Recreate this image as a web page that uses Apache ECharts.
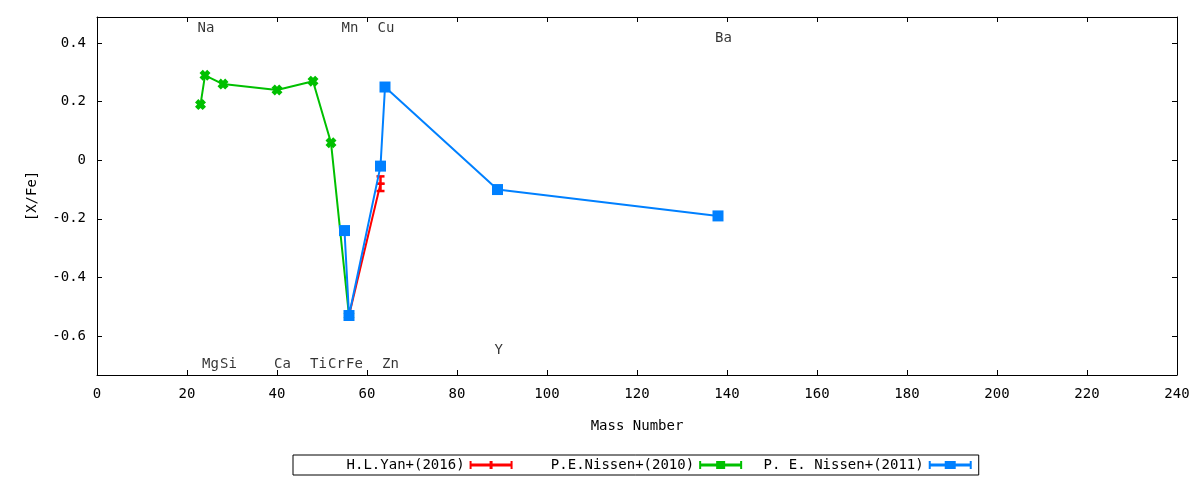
<!DOCTYPE html>
<html>
<head>
<meta charset="utf-8">
<script src="https://cdn.jsdelivr.net/npm/echarts@6/dist/echarts.min.js"></script>
<style>
  html, body { margin: 0; padding: 0; background: #fff; }
  #chart { width: 1200px; height: 480px; }
</style>
</head>
<body>
<div id="chart"></div>
<script>
// H.L.Yan+(2016)
const yanMass = [56, 63];
const yanVal = [-0.53, -0.08];
const yanErr = [0, 0.025];

// P.E.Nissen+(2010)
const nissen10Mass = [23, 24, 28, 40, 48, 52, 56];
const nissen10Val = [0.19, 0.29, 0.26, 0.24, 0.27, 0.06, -0.53];

// P. E. Nissen+(2011)
const nissen11Mass = [55, 56, 63, 64, 89, 138];
const nissen11Val = [-0.24, -0.53, -0.02, 0.25, -0.10, -0.19];

// element labels
const elemName = ['Na', 'Mg', 'Si', 'Ca', 'Ti', 'Cr', 'Mn', 'Fe', 'Cu', 'Zn', 'Y', 'Ba'];
const elemMass = [23, 24, 28, 40, 48, 52, 55, 56, 63, 64, 89, 138];
const elemLabelY = [0.45, -0.697, -0.697, -0.697, -0.697, -0.697, 0.45, -0.697, 0.45, -0.697, -0.65, 0.416];

const yTicks = [-0.6, -0.4, -0.2, 0, 0.2, 0.4];

const FONT = 'DejaVu Sans Mono';
const FS = 14;
const RED = '#ff0000', GREEN = '#00c000', BLUE = '#0080ff';

const zip = (xs, ys) => xs.map((x, i) => [x, ys[i]]);

const chart = echarts.init(document.getElementById('chart'));

const xBase = {
  type: 'value', min: 0, max: 240, interval: 20,
  axisLine: { show: true, onZero: false, lineStyle: { color: '#000', width: 1 } },
  axisTick: { show: true, inside: true, length: 5, lineStyle: { color: '#000' } },
  splitLine: { show: false }
};
const yBase = {
  type: 'value', min: -0.733, max: 0.489,
  axisLine: { show: true, onZero: false, lineStyle: { color: '#000', width: 1 } },
  axisTick: { show: true, inside: true, length: 5, customValues: yTicks, lineStyle: { color: '#000' } },
  splitLine: { show: false }
};

// bold "x" marker like gnuplot's
const xPath = 'path://M0,3L3,0L5,2L7,0L10,3L8,5L10,7L7,10L5,8L3,10L0,7L2,5Z';

chart.setOption({
  animation: false,
  textStyle: { fontFamily: FONT },
  grid: { left: 97, right: 23, top: 17, bottom: 105 },
  xAxis: [
    Object.assign({}, xBase, {
      position: 'bottom',
      name: 'Mass Number', nameLocation: 'middle', nameGap: 44,
      nameTextStyle: { fontFamily: FONT, fontSize: FS, color: '#000' },
      axisLabel: { color: '#000', fontFamily: FONT, fontSize: FS, margin: 12 }
    }),
    Object.assign({}, xBase, { position: 'top', axisLabel: { show: false } })
  ],
  yAxis: [
    Object.assign({}, yBase, {
      position: 'left',
      name: '[X/Fe]', nameLocation: 'middle', nameGap: 58, nameRotate: 90,
      nameTextStyle: { fontFamily: FONT, fontSize: FS, color: '#000' },
      axisLabel: {
        color: '#000', fontFamily: FONT, fontSize: FS, margin: 11,
        customValues: yTicks,
        formatter: v => (Math.abs(v) < 1e-9 ? '0' : String(+v.toFixed(1)))
      }
    }),
    Object.assign({}, yBase, { position: 'right', axisLabel: { show: false } })
  ],
  legend: {
    left: 293, top: 455,
    orient: 'horizontal',
    align: 'right',
    itemWidth: 43, itemHeight: 8, itemGap: 13,
    padding: [3, 7, 3, 3],
    borderColor: '#000', borderWidth: 1, borderRadius: 0,
    textStyle: { fontFamily: FONT, fontSize: FS, color: '#000' },
    formatter: name => name.padStart(20, ' '),
    data: [
      { name: 'H.L.Yan+(2016)', icon: 'path://M0,2.5h43v3h-43zM0,0h2v8h-2zM41,0h2v8h-2zM20,0h3v8h-3z' },
      { name: 'P.E.Nissen+(2010)', icon: 'path://M0,2.5h43v3h-43zM0,0h2v8h-2zM41,0h2v8h-2zM17,0h9v8h-9z' },
      { name: 'P. E. Nissen+(2011)', icon: 'path://M0,2.5h43v3h-43zM0,0h2v8h-2zM41,0h2v8h-2zM16,0h11v8h-11z' }
    ]
  },
  series: [
    {
      name: 'H.L.Yan+(2016)', type: 'line',
      data: zip(yanMass, yanVal),
      symbol: 'rect', symbolSize: [8, 2],
      lineStyle: { color: RED, width: 2 },
      itemStyle: { color: RED },
      z: 2
    },
    {
      name: 'H.L.Yan+(2016)', type: 'custom',
      data: yanMass.map((m, i) => [m, yanVal[i], yanErr[i]]),
      renderItem: (params, api) => {
        const x = api.value(0), y = api.value(1), e = api.value(2);
        if (!e) return null;
        const top = api.coord([x, y + e]);
        const bot = api.coord([x, y - e]);
        const mid = api.coord([x, y]);
        const st = { stroke: RED, lineWidth: 2.5 };
        return {
          type: 'group',
          children: [
            { type: 'line', shape: { x1: top[0], y1: top[1], x2: bot[0], y2: bot[1] }, style: st },
            { type: 'line', shape: { x1: top[0] - 4, y1: top[1], x2: top[0] + 4, y2: top[1] }, style: st },
            { type: 'line', shape: { x1: bot[0] - 4, y1: bot[1], x2: bot[0] + 4, y2: bot[1] }, style: st },
            { type: 'line', shape: { x1: mid[0] - 4, y1: mid[1], x2: mid[0] + 4, y2: mid[1] }, style: st }
          ]
        };
      },
      z: 2
    },
    {
      name: 'P.E.Nissen+(2010)', type: 'line',
      data: zip(nissen10Mass, nissen10Val),
      symbol: xPath, symbolSize: 11,
      lineStyle: { color: GREEN, width: 2 },
      itemStyle: { color: GREEN },
      z: 3
    },
    {
      name: 'P. E. Nissen+(2011)', type: 'line',
      data: zip(nissen11Mass, nissen11Val),
      symbol: 'rect', symbolSize: 11,
      lineStyle: { color: BLUE, width: 2 },
      itemStyle: { color: BLUE },
      z: 4
    },
    {
      name: 'labels', type: 'scatter',
      data: elemMass.map((m, i) => [m, elemLabelY[i], elemName[i]]),
      symbolSize: 0,
      silent: true,
      label: {
        show: true, position: 'inside', align: 'left', verticalAlign: 'middle',
        offset: [-3, 0],
        formatter: p => p.data[2],
        fontFamily: FONT, fontSize: FS, color: '#000'
      },
      z: 5
    }
  ]
});
</script>
</body>
</html>
